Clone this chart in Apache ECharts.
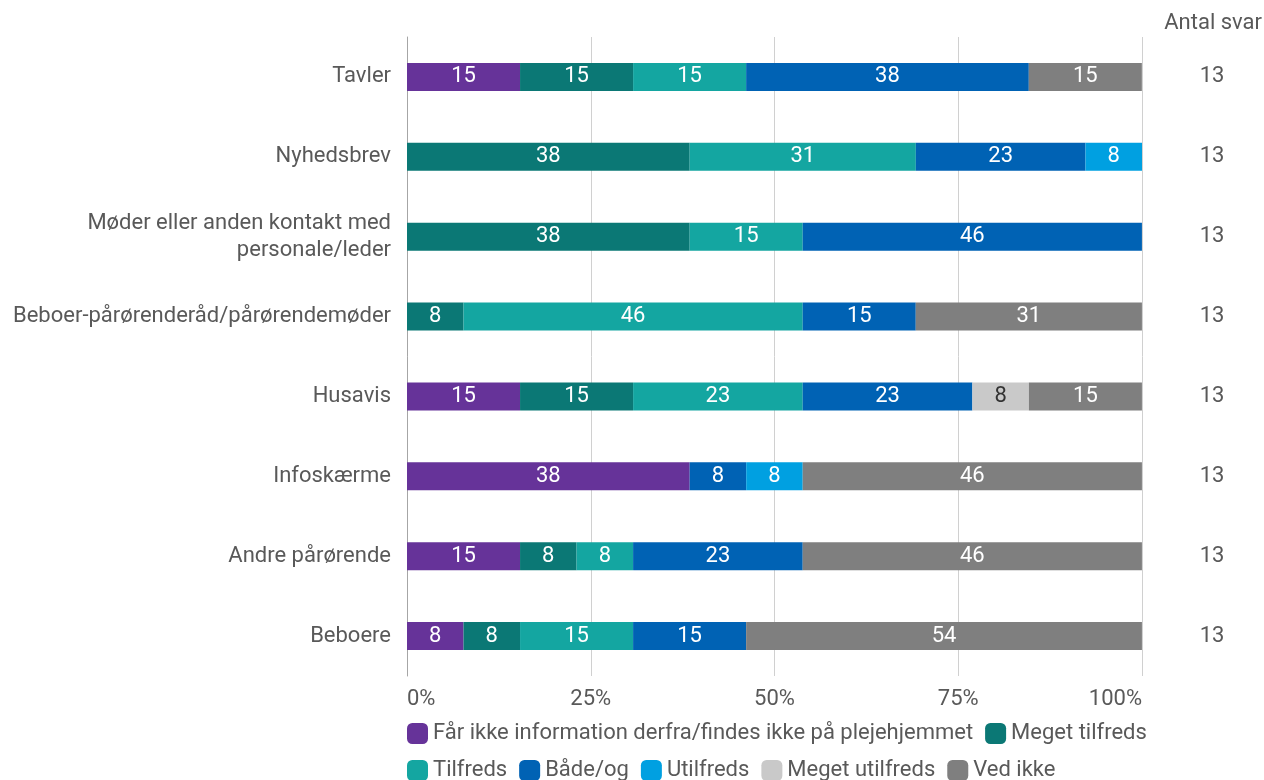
<!DOCTYPE html>
<html>
<head>
<meta charset="utf-8">
<script src="https://cdn.jsdelivr.net/npm/echarts@6/dist/echarts.min.js"></script>
<style>html,body{margin:0;padding:0;background:#fff}#c{width:1264px;height:780px}</style>
</head>
<body>
<div id="c"></div>
<script>
var categories = ["Tavler", "Nyhedsbrev", "Møder eller anden kontakt med\npersonale/leder", "Beboer-pårørenderåd/pårørendemøder", "Husavis", "Infoskærme", "Andre pårørende", "Beboere"];
var seriesNames = ["Får ikke information derfra/findes ikke på plejehjemmet", "Meget tilfreds", "Tilfreds", "Både/og", "Utilfreds", "Meget utilfreds", "Ved ikke"];
var seriesColors = ["#663399", "#0b7875", "#14a6a1", "#0062b4", "#00a0e1", "#c9c9c9", "#7f7f7f"];
var labelColors = ["#fff", "#fff", "#fff", "#fff", "#fff", "#333", "#fff"];
var sFaarIkke      = [15.38, 0, 0, 0, 15.38, 38.46, 15.38, 7.69];
var sMegetTilfreds = [15.38, 38.46, 38.46, 7.69, 15.38, 0, 7.69, 7.69];
var sTilfreds      = [15.38, 30.77, 15.38, 46.15, 23.08, 0, 7.69, 15.38];
var sBaadeOg       = [38.46, 23.08, 46.15, 15.38, 23.08, 7.69, 23.08, 15.38];
var sUtilfreds     = [0, 7.69, 0, 0, 0, 7.69, 0, 0];
var sMegetUtilfreds= [0, 0, 0, 0, 7.69, 0, 0, 0];
var sVedIkke       = [15.38, 0, 0, 30.77, 15.38, 46.15, 46.15, 53.85];
var antalSvar = [13, 13, 13, 13, 13, 13, 13, 13];
var xTicks = ["0%", "25%", "50%", "75%", "100%"];

var allSeries = [sFaarIkke, sMegetTilfreds, sTilfreds, sBaadeOg, sUtilfreds, sMegetUtilfreds, sVedIkke];
var FONT = "Roboto";
var TXT = "#595959";
var FS = 22;

var chart = echarts.init(document.getElementById('c'), null, {renderer: 'canvas'});
var option = {
  animation: false,
  textStyle: {fontFamily: FONT},
  title: {
    text: "Antal svar", right: 2, top: 12, padding: 0,
    textStyle: {fontFamily: FONT, fontSize: FS, fontWeight: 'normal', color: TXT}
  },
  grid: {left: 407, right: 122, top: 37, bottom: 104, containLabel: false},
  legend: {
    left: 407, top: 721, width: 760, padding: 0,
    itemWidth: 21, itemHeight: 21, itemGap: 12,
    icon: 'roundRect',
    textStyle: {fontFamily: FONT, fontSize: FS, color: TXT, lineHeight: 25},
    data: seriesNames
  },
  xAxis: {
    type: 'value', min: 0, max: 100, interval: 25,
    axisLine: {show: false}, axisTick: {show: false},
    splitLine: {lineStyle: {color: '#d0d0d0', width: 1}},
    axisLabel: {
      fontFamily: FONT, fontSize: FS, color: TXT, margin: 12,
      alignMinLabel: 'left', alignMaxLabel: 'right',
      formatter: function (v) { return xTicks[Math.round(v / 25)]; }
    }
  },
  yAxis: [{
    type: 'category', data: categories, inverse: true,
    axisLine: {show: true, lineStyle: {color: '#a6a6a6', width: 1}},
    axisTick: {show: false},
    axisLabel: {fontFamily: FONT, fontSize: FS, color: TXT, margin: 16, lineHeight: 27, align: 'right'}
  }, {
    type: 'category', data: categories, inverse: true, position: 'right',
    axisLine: {show: false}, axisTick: {show: false},
    axisLabel: {
      fontFamily: FONT, fontSize: FS, color: TXT, margin: 70, align: 'center',
      formatter: function (v, i) { return String(antalSvar[i]); }
    }
  }],
  series: seriesNames.map(function (name, k) {
    return {
      name: name, type: 'bar', stack: 'total', barWidth: 28,
      data: allSeries[k].map(function (v) { return v === 0 ? null : v; }),
      itemStyle: {color: seriesColors[k]},
      label: {
        show: true, position: 'inside', fontFamily: FONT, fontSize: FS,
        color: labelColors[k],
        formatter: function (p) { return Math.round(p.value); }
      }
    };
  })
};
chart.setOption(option);
</script>
</body>
</html>
